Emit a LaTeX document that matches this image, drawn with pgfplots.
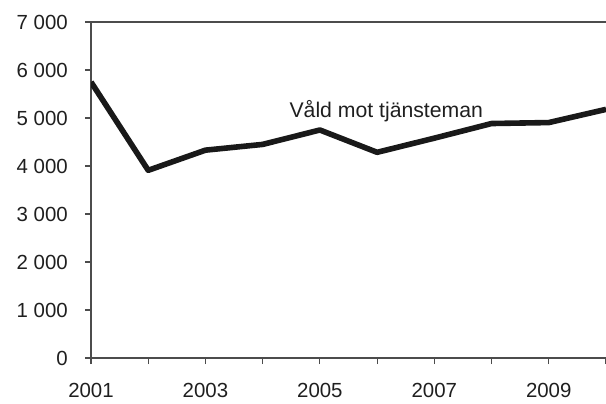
\documentclass[border=0pt]{standalone}
\usepackage{pgfplots}
\pgfplotsset{compat=1.18}
\usepackage{fontspec}
\setmainfont{Liberation Sans}
\newcommand\tickfont{\fontsize{20.5}{24}\selectfont}
\begin{document}
\begin{tikzpicture}[font=\tickfont]
\begin{axis}[
  scale only axis,
  width=515bp, height=336bp,
  xmin=2001, xmax=2010, ymin=0, ymax=7000,
  axis x line*=box, axis y line*=left,
  axis line style={black!70, line width=1.1bp, -},
  xtick={2001,2002,...,2010},
  xticklabels={2001,,2003,,2005,,2007,,2009,},
  ytick={0,1000,...,7000},
  yticklabels={0,1 000,2 000,3 000,4 000,5 000,6 000,7 000},
  xtick pos=left, ytick pos=left,
  tick align=outside,
  major tick length=6bp,
  tick style={black!70, line width=1.1bp},
  every tick label/.append style={font=\tickfont},
  xticklabel style={font=\tickfont, text=black!88, inner sep=0pt, anchor=north, yshift=-19bp},
  yticklabel style={font=\tickfont, text=black!88, inner sep=0pt, anchor=east, xshift=-17bp},
  clip=true,
]
\addplot[color=black!90, line width=5.6bp, line join=round] coordinates {
(2001,5750) (2002,3910) (2003,4330) (2004,4450) (2005,4750)
(2006,4285) (2007,4580) (2008,4885) (2009,4905) (2010,5180)
};
\node[font=\fontsize{21.3}{25}\selectfont, text=black!88, anchor=base, inner sep=0pt] at (axis cs:2006.16,5020) {Våld mot tjänsteman};
\end{axis}
\pgfresetboundingbox
\path ([shift={(-91bp,-45bp)}]current axis.south west) rectangle ([shift={(0bp,22bp)}]current axis.north east);
\end{tikzpicture}
\end{document}
